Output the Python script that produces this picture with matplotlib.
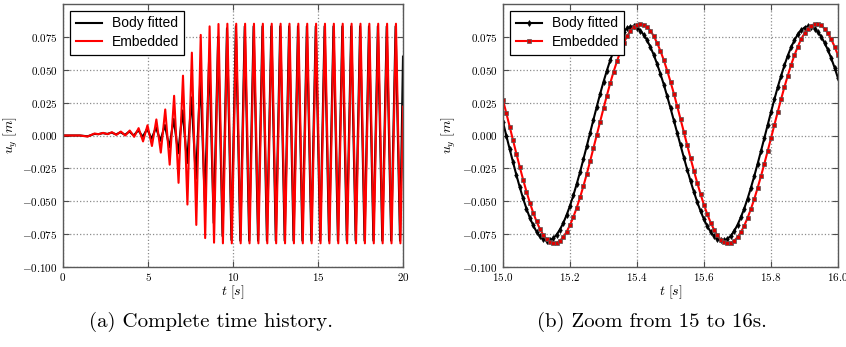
import numpy as np
import matplotlib
matplotlib.use("Agg")
import matplotlib.pyplot as plt
from matplotlib.ticker import FuncFormatter, FixedLocator

plt.rcParams["mathtext.fontset"] = "cm"
plt.rcParams["font.family"] = ["Liberation Sans", "DejaVu Sans"]

# ---------------- complete time history (extrema of each oscillation) ----------------
t_embedded = [0.0, 1.0, 1.45, 1.85,
              2.099, 2.360, 2.621, 2.882, 3.143, 3.404, 3.665, 3.926, 4.187, 4.448,
              4.709, 4.970, 5.231, 5.492, 5.753, 6.014, 6.275, 6.536, 6.797, 7.058,
              7.319, 7.580, 7.841, 8.102, 8.363, 8.624, 8.885, 9.146, 9.407,
              9.668, 9.929, 10.190, 10.451, 10.712, 10.973, 11.234, 11.495, 11.756, 12.017,
              12.278, 12.539, 12.800, 13.061, 13.322, 13.583, 13.844, 14.105, 14.366, 14.627,
              14.888, 15.149, 15.410, 15.671, 15.932, 16.193, 16.454, 16.715, 16.976, 17.237,
              17.498, 17.759, 18.020, 18.281, 18.542, 18.803, 19.064, 19.325, 19.586, 19.847,
              20.0]
u_embedded = [0.0, 0.0, -0.0008, 0.0015,
              0.0010, 0.0020, 0.0010, 0.0025, 0.0005, 0.0030, 0.0000, 0.0038, -0.0010, 0.0056,
              -0.0045, 0.0078, -0.0080, 0.0122, -0.0130, 0.0198, -0.0222, 0.0302, -0.0360, 0.0455,
              -0.0525, 0.0630, -0.0680, 0.0765, -0.0780, 0.0830, -0.0815, 0.0848, -0.0820,
              0.085, -0.082, 0.085, -0.082, 0.085, -0.082, 0.085, -0.082, 0.085, -0.082,
              0.085, -0.082, 0.085, -0.082, 0.085, -0.082, 0.085, -0.082, 0.085, -0.082,
              0.085, -0.082, 0.085, -0.082, 0.085, -0.082, 0.085, -0.082, 0.085, -0.082,
              0.085, -0.082, 0.085, -0.082, 0.085, -0.082, 0.085, -0.082, 0.085, -0.082,
              0.022]

t_body = [0.0, 1.0, 1.45, 1.85,
          2.077, 2.338, 2.599, 2.860, 3.121, 3.382, 3.643, 3.904, 4.165, 4.426,
          4.687, 4.948, 5.209, 5.470, 5.731, 5.992, 6.253, 6.514, 6.775, 7.036,
          7.297, 7.558, 7.819, 8.080, 8.341, 8.602, 8.863, 9.124, 9.385, 9.646,
          9.907, 10.168, 10.429, 10.690, 10.951, 11.212, 11.473, 11.734, 11.995, 12.256,
          12.517, 12.778, 13.039, 13.300, 13.561, 13.822, 14.083, 14.344, 14.605, 14.866,
          15.127, 15.388, 15.649, 15.910, 16.171, 16.432, 16.693, 16.954, 17.215, 17.476,
          17.737, 17.998, 18.259, 18.520, 18.781, 19.042, 19.303, 19.564, 19.825,
          20.0]
u_body = [0.0, 0.0, -0.0006, 0.0012,
          0.0010, 0.0018, 0.0012, 0.0022, 0.0008, 0.0025, 0.0005, 0.0030, 0.0000, 0.0040,
          -0.0010, 0.0050, -0.0025, 0.0060, -0.0040, 0.0080, -0.0090, 0.0125, -0.0135, 0.0190,
          -0.0210, 0.0290, -0.0330, 0.0440, -0.0500, 0.0610, -0.0665, 0.0750, -0.0765, 0.0815,
          -0.0795, 0.083, -0.080, 0.083, -0.080, 0.083, -0.080, 0.083, -0.080, 0.083,
          -0.080, 0.083, -0.080, 0.083, -0.080, 0.083, -0.080, 0.083, -0.080, 0.083,
          -0.080, 0.083, -0.080, 0.083, -0.080, 0.083, -0.080, 0.083, -0.080, 0.083,
          -0.080, 0.083, -0.080, 0.083, -0.080, 0.083, -0.080, 0.083, -0.080,
          0.060]

# ---------------- zoom 15 s - 16 s, sampled every 0.01 s ----------------
t_zoom = np.linspace(15.0, 16.0, 101)
u_zoom_body = [
    0.0101, -0.0002, -0.0104, -0.0204, -0.0301, -0.0393, -0.0479, -0.0556, -0.0625, -0.0683,
    -0.0731, -0.0766, -0.0789, -0.0799,
    -0.0797, -0.0782, -0.0754, -0.0715, -0.0665, -0.0604, -0.0534, -0.0455, -0.0369, -0.0278,
    -0.0180, -0.0081, 0.0020, 0.0121, 0.0220, 0.0317, 0.0408, 0.0493, 0.0572, 0.0641,
    0.0701, 0.0750, 0.0789, 0.0815, 0.0828,
    0.0829, 0.0819, 0.0798, 0.0766, 0.0725, 0.0673, 0.0613, 0.0544, 0.0468, 0.0387,
    0.0299, 0.0208, 0.0114, 0.0020, -0.0075, -0.0169, -0.0260, -0.0348, -0.0430, -0.0507,
    -0.0577, -0.0638, -0.0691, -0.0733, -0.0766, -0.0788, -0.0798,
    -0.0798, -0.0786, -0.0763, -0.0727, -0.0680, -0.0622, -0.0556, -0.0481, -0.0398, -0.0309,
    -0.0216, -0.0119, -0.0020, 0.0079, 0.0178, 0.0274, 0.0367, 0.0453, 0.0533, 0.0607,
    0.0671, 0.0725, 0.0769, 0.0801, 0.0821, 0.0830,
    0.0827, 0.0812, 0.0787, 0.0751, 0.0705, 0.0650, 0.0586, 0.0515, 0.0436]
u_zoom_embedded = [
    0.0269, 0.0169, 0.0067, -0.0037, -0.0139, -0.0239, -0.0335, -0.0426, -0.0510, -0.0586,
    -0.0653, -0.0710, -0.0756, -0.0789, -0.0811, -0.0820,
    -0.0816, -0.0800, -0.0772, -0.0732, -0.0681, -0.0620, -0.0549, -0.0471, -0.0385, -0.0293,
    -0.0196, -0.0096, 0.0005, 0.0106, 0.0206, 0.0304, 0.0397, 0.0484, 0.0563, 0.0636,
    0.0701, 0.0753, 0.0796, 0.0826, 0.0844, 0.0850,
    0.0844, 0.0826, 0.0797, 0.0756, 0.0704, 0.0643, 0.0573, 0.0494, 0.0409, 0.0319,
    0.0223, 0.0124, 0.0025, -0.0075, -0.0174, -0.0270, -0.0361, -0.0448, -0.0528, -0.0600,
    -0.0663, -0.0716, -0.0760, -0.0791, -0.0812, -0.0820,
    -0.0816, -0.0801, -0.0774, -0.0736, -0.0686, -0.0627, -0.0559, -0.0484, -0.0399, -0.0310,
    -0.0216, -0.0119, -0.0020, 0.0079, 0.0179, 0.0275, 0.0368, 0.0455, 0.0537, 0.0611,
    0.0676, 0.0733, 0.0777, 0.0813, 0.0836, 0.0848,
    0.0848, 0.0837, 0.0812, 0.0777, 0.0731, 0.0675, 0.0610]

y_ticks = [-0.100, -0.075, -0.050, -0.025, 0.000, 0.025, 0.050, 0.075]
x_ticks_full = [0, 5, 10, 15, 20]
x_ticks_zoom = [15.0, 15.2, 15.4, 15.6, 15.8, 16.0]
series_labels = ["Body fitted", "Embedded"]
captions = ["(a) Complete time history.", "(b) Zoom from 15 to 16s."]

W, H = 846, 347
fig = plt.figure(figsize=(W / 100, H / 100), dpi=100)

def px_axes(x0, x1, y0, y1):
    return fig.add_axes([x0 / W, 1 - y1 / H, (x1 - x0) / W, (y1 - y0) / H])

ax1 = px_axes(63, 403, 4, 267)
ax2 = px_axes(503, 838, 4, 267)

ax1.plot(t_body, u_body, color="k", lw=1.5, label=series_labels[0])
ax1.plot(t_embedded, u_embedded, color="#ff0000", lw=1.5, label=series_labels[1])
ax1.set_xlim(0, 20)
ax1.xaxis.set_major_locator(FixedLocator(x_ticks_full))
ax1.xaxis.set_major_formatter(FuncFormatter(lambda v, p: f"${v:.0f}$"))

ax2.plot(t_zoom, u_zoom_body, color="k", lw=1.5, marker="d", ms=3,
         mec="k", mew=0.5, label=series_labels[0])
ax2.plot(t_zoom, u_zoom_embedded, color="#ff0000", lw=1.5, marker="s", ms=3.2,
         mfc="#dd0000", mec="#555555", mew=0.5, label=series_labels[1])
ax2.set_xlim(15.0, 16.0)
ax2.xaxis.set_major_locator(FixedLocator(x_ticks_zoom))
ax2.xaxis.set_major_formatter(FuncFormatter(lambda v, p: f"${v:.1f}$"))

for ax, x0, w, ylab_x in ((ax1, 63, 340, 20), (ax2, 503, 335, 458)):
    ax.set_ylim(-0.1, 0.1)
    ax.yaxis.set_major_locator(FixedLocator(y_ticks))
    ax.yaxis.set_major_formatter(FuncFormatter(lambda v, p: f"${v:.3f}$"))
    ax.grid(True, linestyle=":", color="0.55", lw=0.9)
    ax.tick_params(direction="in", top=True, right=True, length=4, width=0.8,
                   labelsize=8, pad=3, color="0.3")
    ax.tick_params(axis="y", pad=4)
    for s in ax.spines.values():
        s.set_color("0.35")
        s.set_linewidth(1.0)
    ax.set_ylabel(r"$u_y\ [m]$", fontsize=10)
    ax.set_xlabel(r"$t\ [s]$", fontsize=10)
    ax.yaxis.set_label_coords((ylab_x - x0) / w, 0.5)
    ax.xaxis.set_label_coords(0.5, (267 - 283) / 263)
    leg = ax.legend(loc="upper left", fontsize=10, fancybox=False, framealpha=1,
                    edgecolor="k", borderaxespad=0.5, handlelength=1.9,
                    handletextpad=0.7, labelspacing=0.35, borderpad=0.4)
    leg.get_frame().set_linewidth(0.9)

fig.text(211 / W, 1 - 322 / H, captions[0], fontfamily="cmr10", fontsize=15,
         ha="center", va="center")
fig.text(652 / W, 1 - 322 / H, captions[1], fontfamily="cmr10", fontsize=15,
         ha="center", va="center")

fig.savefig("out.png", dpi=100)
